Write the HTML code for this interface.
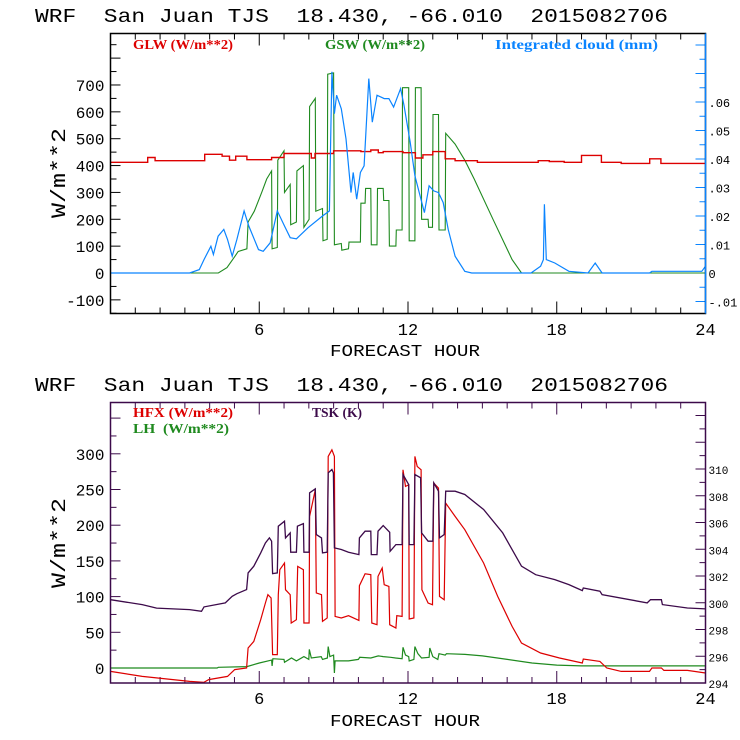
<!DOCTYPE html>
<html><head><meta charset="utf-8"><style>
html,body{margin:0;padding:0;background:#fff;}
svg{display:block;}
text{font-family:"Liberation Mono",monospace;white-space:pre;}
.lg{font-family:"Liberation Serif",serif;font-size:14px;font-weight:bold;}
</style></head><body>
<svg id="chart" width="740" height="740" viewBox="0 0 740 740"></svg>
<script>
// ---------- data (hours, values) ----------
const glwH=[0,1.5,1.8,3.8,4.5,4.8,5.05,5.5,6.5,7.0,8.1,8.25,9.0,10.1,10.5,10.8,11.0,11.8,12.3,12.6,13.0,13.5,13.9,14.8,17.25,17.7,18.3,19.0,19.8,20.6,21.75,22.2,24];
const glwV=[412,430,418,442,435,420,435,422,430,445,428,445,455,452,458,448,452,448,428,440,452,425,418,412,418,415,412,438,412,408,425,408,408];
const gswH=[0,4.35,4.7,5.0,5.15,5.5,5.55,5.8,6.1,6.3,6.5,6.52,6.73,6.75,7.0,7.02,7.25,7.27,7.5,7.52,7.78,7.8,8.01,8.03,8.26,8.28,8.55,8.57,8.74,8.76,9.0,9.03,9.31,9.33,9.6,9.62,10.08,10.1,10.27,10.29,10.5,10.52,10.75,10.77,11.0,11.02,11.23,11.25,11.51,11.53,11.76,11.78,12.03,12.05,12.28,12.3,12.53,12.55,12.81,12.83,12.99,13.01,13.23,13.25,13.5,13.52,13.9,14.29,14.67,15.43,16.2,16.58,24];
const gswV=[0,0,20,60,80,90,190,230,300,350,380,90,95,420,455,300,330,180,190,380,400,170,200,620,650,230,240,120,125,740,745,105,110,85,90,115,115,260,260,315,315,105,105,315,315,270,270,100,100,160,160,690,690,120,120,690,690,200,200,170,170,590,590,160,160,520,480,420,350,200,50,0,0];
const cldH=[0,3.19,3.58,3.77,4.05,4.15,4.34,4.57,4.72,4.91,5.1,5.39,5.58,5.97,6.16,6.44,6.73,7.02,7.25,7.5,7.97,8.55,8.83,8.93,9.03,9.12,9.31,9.5,9.7,9.79,9.93,10.08,10.23,10.42,10.56,10.75,11.04,11.23,11.42,11.7,11.84,12.09,12.28,12.66,12.85,13.04,13.23,13.42,13.62,13.9,14.29,14.57,16.96,17.35,17.46,17.5,17.58,17.92,18.49,19.26,19.55,19.83,21.74,21.84,22.7,23.85,24];
const cldV=[0,0,0.0012,0.0047,0.0094,0.0065,0.0129,0.0153,0.0118,0.0059,0.0118,0.0218,0.0165,0.0082,0.0076,0.0106,0.0218,0.0165,0.0124,0.012,0.0159,0.02,0.0218,0.0706,0.0559,0.0624,0.0576,0.0471,0.0282,0.0353,0.0259,0.0353,0.0376,0.0682,0.0529,0.0624,0.0612,0.0612,0.0582,0.0647,0.0588,0.0459,0.0341,0.0212,0.0306,0.0288,0.0282,0.0247,0.0153,0.0059,0.0006,0,0,0.0024,0.0047,0.0241,0.0047,0.0035,0.0006,0,0.0035,0,0,0.0006,0.0006,0.0006,0.0024];
const tskH=[0,1.28,1.86,3.19,3.67,3.77,4.63,4.91,5.1,5.49,5.55,5.78,6.06,6.25,6.41,6.5,6.54,6.73,6.77,7.02,7.06,7.25,7.27,7.5,7.54,7.78,7.8,8.01,8.03,8.26,8.3,8.51,8.55,8.74,8.78,8.93,8.99,9.03,9.31,9.6,10.02,10.04,10.27,10.5,10.52,10.75,10.79,11.0,11.26,11.28,11.51,11.76,11.8,12.03,12.05,12.24,12.28,12.51,12.55,12.81,13.0,13.04,13.23,13.27,13.46,13.52,13.9,14.29,15.05,15.82,16.58,17.15,17.92,18.49,19.03,19.07,19.74,19.83,21.65,21.78,22.22,22.26,23.27,24];
const tskV=[300.23,299.86,299.6,299.49,299.36,299.69,299.99,300.48,300.68,300.98,302.23,302.73,303.73,304.47,304.85,304.6,302.18,302.23,305.72,306.1,304.85,305.22,303.78,303.78,305.72,305.92,303.78,303.78,308.21,308.51,305.1,304.85,303.73,303.78,309.71,309.96,309.71,304.1,303.98,303.78,303.6,304.85,305.35,305.35,303.6,303.6,305.35,305.77,305.27,303.85,304.35,304.35,309.59,308.84,304.35,304.35,309.59,309.34,305.22,304.6,304.6,308.96,308.34,304.85,305.1,308.34,308.34,308.09,306.97,305.22,302.73,302.1,301.73,301.36,300.91,301.1,300.86,300.61,299.99,300.23,300.23,299.86,299.61,299.54];
const hfxH=[0,1.28,3.19,3.77,3.96,4.72,5.01,5.49,5.55,5.78,6.06,6.25,6.35,6.48,6.54,6.73,6.77,6.83,7.02,7.06,7.25,7.29,7.5,7.55,7.78,7.8,8.01,8.03,8.26,8.3,8.51,8.55,8.74,8.78,8.93,9.03,9.06,9.31,9.6,10.02,10.04,10.27,10.5,10.54,10.75,10.79,10.96,11.04,11.23,11.26,11.51,11.55,11.76,11.8,11.9,12.03,12.05,12.24,12.28,12.37,12.53,12.56,12.81,12.99,13.04,13.23,13.27,13.46,13.52,13.9,14.29,15.05,15.62,16.2,16.58,17.35,18.11,19.03,19.07,19.74,20.02,20.6,21.74,21.84,22.22,22.32,23.27,24];
const hfxV=[-4.7,-11.7,-18.7,-20,-16.3,-11.7,-2.3,0,28,37.3,67.7,91,102.7,98,18.7,18.7,102.7,137.7,147,109.7,102.7,63,67.7,142.3,137.7,63,63,212.3,249.6,105,102.7,65.3,70,296.3,305.6,296.3,72.3,70,73.3,66.7,115.3,132,130.7,63,60.7,128.3,140,116.7,114.3,60.7,56,73.3,72.3,277.6,254.3,256.6,68.6,70,296.3,282.3,277.6,109.7,91,88.7,259,252,100.3,95.7,231,212.3,193.7,147,100.3,58.3,35,21,14,7,12.6,9.3,0,-4.7,-4.7,0,0,-3.3,-3.3,-7];
const lhH=[0,4.3,4.35,5.5,6.0,6.5,6.52,6.55,7.0,7.02,7.3,7.5,7.8,8.0,8.02,8.1,8.5,8.55,8.75,8.78,8.85,9.0,9.03,9.06,9.6,10.0,10.05,10.5,10.8,11.0,11.3,11.5,11.76,11.8,11.9,12.03,12.05,12.24,12.28,12.4,12.55,12.85,12.88,13.0,13.2,13.25,13.5,13.55,14.3,15,16,17,18,19,20,22,24];
const lhV=[0,0,1,2,7,11,3,13,12,8,14,10,16,12,26,14,16,12,14,30,16,18,-7,10,10,12,15,14,17,16,15,14,13,29,18,16,10,12,30,20,14,15,28,16,12,20,18,20,19,17,12,7,4,3,3,3,3];
const topLeftTicks=["-100","0","100","200","300","400","500","600","700"];
const topLeftVals=[-100,0,100,200,300,400,500,600,700];
const cloudTicks=["-.01","0",".01",".02",".03",".04",".05",".06"];
const cloudVals=[-0.01,0,0.01,0.02,0.03,0.04,0.05,0.06];
const botLeftVals=[0,50,100,150,200,250,300];
const botLeftTicks=["0","50","100","150","200","250","300"];
const tskVals=[294,296,298,300,302,304,306,308,310];
const tskTicks=["294","296","298","300","302","304","306","308","310"];
const hourVals=[6,12,18,24];
const hourTicks=["6","12","18","24"];

const svg=document.getElementById('chart');
const NS='http://www.w3.org/2000/svg';
function mk(tag,attrs,parent){const e=document.createElementNS(NS,tag);for(const k in attrs)e.setAttribute(k,attrs[k]);(parent||svg).appendChild(e);return e;}
const X0=110.5,X1=705.5;
const xs=h=>X0+(X1-X0)*h/24;
const T0=33.5,T1=313.5;
const yTop=w=>273-w*0.2686;
const yCld=c=>273-c*2850;
const B0=402.5,B1=683;
const yBot=w=>668-w*0.714;
const yTsk=k=>683-(k-294)*13.375;

function title(y,name){const t=mk('text',{x:35,y:y,'font-size':19,textLength:633,lengthAdjust:'spacingAndGlyphs',fill:'#000'});t.textContent='WRF  San Juan TJS  18.430, -66.010  2015082706';}
function line(hs,vs,sc,col,name,w){let d='';for(let i=0;i<hs.length;i++)d+=(i?'L':'M')+xs(hs[i]).toFixed(1)+' '+sc(vs[i]).toFixed(1);const p=mk('path',{d:d,fill:'none',stroke:col,'stroke-width':w||1.2});}
function stepLine(hs,vs,sc,col,name,w){let d='M'+xs(hs[0]).toFixed(1)+' '+sc(vs[0]).toFixed(1);for(let i=1;i<hs.length;i++){d+='H'+xs(hs[i]).toFixed(1)+'V'+sc(vs[i]).toFixed(1);}const p=mk('path',{d:d,fill:'none',stroke:col,'stroke-width':w||1.2});}
function txt(x,y,s,opts,name){const t=mk('text',Object.assign({x:x,y:y},opts));t.textContent=s;return t;}

// ================= TOP PANEL =================
title(22,'top-title');
for(let h=1;h<24;h++){const L=h%6==0?12:6;mk('line',{x1:xs(h),x2:xs(h),y1:T1,y2:T1-L,stroke:'#000'});mk('line',{x1:xs(h),x2:xs(h),y1:T0,y2:T0+L,stroke:'#000'});}
for(let w=-150;w<=850;w+=50){const L=w%100==0?10:6;mk('line',{x1:X0,x2:X0+L,y1:yTop(w),y2:yTop(w),stroke:'#000'});}
for(let c=-0.01;c<=0.081;c+=0.005){const L=Math.round(c*1000)%10==0?10:6;mk('line',{x1:X1,x2:X1-L,y1:yCld(c),y2:yCld(c),stroke:'#0a84ff'});}
topLeftVals.forEach((v,i)=>txt(X0-6,yTop(v)+6,topLeftTicks[i],{'font-size':16,'text-anchor':'end',fill:'#000'},'top-left-tick-label'));
cloudVals.forEach((v,i)=>txt(X1+3,yCld(v)+5,cloudTicks[i],{'font-size':12,fill:'#000'},'cloud-tick-label'));
hourVals.forEach((v,i)=>txt(xs(v),335,hourTicks[i],{'font-size':17,'text-anchor':'middle',fill:'#000'},'top-hour-tick-label'));
txt(405,356,'FORECAST HOUR',{'font-size':17,'text-anchor':'middle',fill:'#000',textLength:150,lengthAdjust:'spacingAndGlyphs'},'top-x-axis-title');
txt(0,0,'W/m**2',{'font-size':20,'text-anchor':'middle',fill:'#000',transform:'translate(65,173) rotate(-90)',textLength:90,lengthAdjust:'spacingAndGlyphs'},'top-y-axis-title');
line(gswH,gswV,yTop,'#1f8a1f','gsw-line',1.1);
stepLine(glwH,glwV,yTop,'#dd0000','glw-line',1.4);
line(cldH,cldV,yCld,'#0a84ff','cloud-line',1.2);
mk('rect',{x:X0,y:T0,width:X1-X0,height:T1-T0,fill:'none',stroke:'#000','stroke-width':1.5});
mk('line',{x1:X1,x2:X1,y1:T0,y2:T1,stroke:'#0a84ff','stroke-width':1.5});
txt(133,49,'GLW (W/m**2)',{class:'lg',fill:'#dd0000',textLength:100,lengthAdjust:'spacingAndGlyphs'},'legend-glw');
txt(325,49,'GSW (W/m**2)',{class:'lg',fill:'#1f8a1f',textLength:100,lengthAdjust:'spacingAndGlyphs'},'legend-gsw');
txt(495,49,'Integrated cloud (mm)',{class:'lg',fill:'#0a84ff',textLength:163,lengthAdjust:'spacingAndGlyphs'},'legend-cloud');

// ================= BOTTOM PANEL =================
title(391,'bottom-title');
for(let h=1;h<24;h++){const L=h%6==0?12:6;mk('line',{x1:xs(h),x2:xs(h),y1:B1,y2:B1-L,stroke:'#3c0a4a'});mk('line',{x1:xs(h),x2:xs(h),y1:B0,y2:B0+L,stroke:'#3c0a4a'});}
for(let w=-25;w<=375;w+=25){if(yBot(w)<B0||yBot(w)>B1)continue;const L=w%50==0?10:6;mk('line',{x1:X0,x2:X0+L,y1:yBot(w),y2:yBot(w),stroke:'#3c0a4a'});}
for(let k=295;k<=314;k++){if(yTsk(k)<B0)continue;const L=k%2==0?10:6;mk('line',{x1:X1,x2:X1-L,y1:yTsk(k),y2:yTsk(k),stroke:'#3c0a4a'});}
botLeftVals.forEach((v,i)=>txt(X0-6,yBot(v)+6,botLeftTicks[i],{'font-size':16,'text-anchor':'end',fill:'#000'},'bottom-left-tick-label'));
tskVals.forEach((v,i)=>txt(X1+3,yTsk(v)+5,tskTicks[i],{'font-size':11,fill:'#000'},'tsk-tick-label'));
hourVals.forEach((v,i)=>txt(xs(v),704,hourTicks[i],{'font-size':17,'text-anchor':'middle',fill:'#000'},'bottom-hour-tick-label'));
txt(405,726,'FORECAST HOUR',{'font-size':17,'text-anchor':'middle',fill:'#000',textLength:150,lengthAdjust:'spacingAndGlyphs'},'bottom-x-axis-title');
txt(0,0,'W/m**2',{'font-size':20,'text-anchor':'middle',fill:'#000',transform:'translate(65,543) rotate(-90)',textLength:90,lengthAdjust:'spacingAndGlyphs'},'bottom-y-axis-title');
line(lhH,lhV,yBot,'#1f8a1f','lh-line',1.2);
line(hfxH,hfxV,yBot,'#dd0000','hfx-line',1.2);
line(tskH,tskV,yTsk,'#3c0a4a','tsk-line',1.3);
mk('rect',{x:X0,y:B0,width:X1-X0,height:B1-B0,fill:'none',stroke:'#3c0a4a','stroke-width':1.5});
txt(133,417,'HFX (W/m**2)',{class:'lg',fill:'#dd0000',textLength:100,lengthAdjust:'spacingAndGlyphs'},'legend-hfx');
txt(133,433,'LH  (W/m**2)',{class:'lg',fill:'#1f8a1f',textLength:96,lengthAdjust:'spacingAndGlyphs'},'legend-lh');
txt(312,417,'TSK (K)',{class:'lg',fill:'#3c0a4a',textLength:50,lengthAdjust:'spacingAndGlyphs'},'legend-tsk');
</script>
</body></html>
